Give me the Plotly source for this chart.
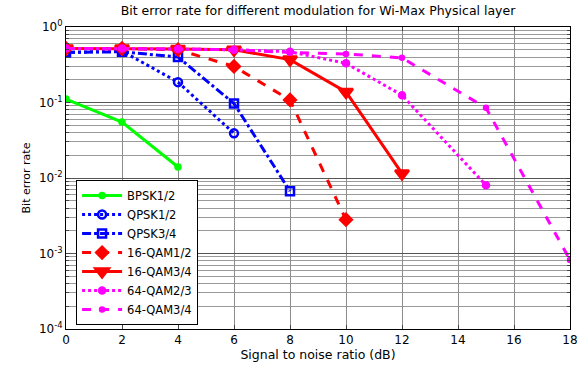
import plotly.graph_objects as go

snr_a = [0, 2, 4]
snr_b = [0, 2, 4, 6]
snr_c = [0, 2, 4, 6, 8]
snr_d = [0, 2, 4, 6, 8, 10]
snr_e = [0, 2, 4, 6, 8, 10, 12]
snr_f = [0, 2, 4, 6, 8, 10, 12, 15]
snr_g = [0, 2, 4, 6, 8, 10, 12, 15, 18]

bpsk12 = [0.111, 0.055, 0.014]
qpsk12 = [0.46, 0.48, 0.186, 0.039]
qpsk34 = [0.46, 0.47, 0.40, 0.097, 0.0067]
qam16_12 = [0.52, 0.52, 0.50, 0.30, 0.108, 0.0028]
qam16_34 = [0.52, 0.52, 0.51, 0.50, 0.37, 0.138, 0.0115]
qam64_23 = [0.52, 0.52, 0.51, 0.50, 0.47, 0.33, 0.125, 0.008]
qam64_34 = [0.52, 0.52, 0.51, 0.50, 0.46, 0.44, 0.39, 0.085, 0.00082]

names = ["BPSK1/2", "QPSK1/2", "QPSK3/4", "16-QAM1/2", "16-QAM3/4", "64-QAM2/3", "64-QAM3/4"]
xs = [snr_a, snr_b, snr_c, snr_d, snr_e, snr_f, snr_g]
ys = [bpsk12, qpsk12, qpsk34, qam16_12, qam16_34, qam64_23, qam64_34]

colors = ["#00ff00", "#0000ff", "#0000ff", "#ff0000", "#ff0000", "#ff00ff", "#ff00ff"]
dashes = ["solid", "dot", "dashdot", "dash", "solid", "dot", "dash"]
symbols = ["circle", "circle-open", "square-open", "diamond", "triangle-down", "circle", "circle"]
msizes = [5, 8, 8, 9, 12, 6, 4]

fig = go.Figure()
for n, x, y, c, d, s, m in zip(names, xs, ys, colors, dashes, symbols, msizes):
    fig.add_trace(go.Scatter(
        x=x, y=y, name=n, mode="lines+markers",
        line=dict(color=c, width=3, dash=d),
        marker=dict(symbol=s, size=m, color=c, line=dict(color=c, width=2.5)),
    ))

ytick_vals = [1e-4, 1e-3, 1e-2, 1e-1, 1]
ytick_text = ["10<sup>-4</sup>", "10<sup>-3</sup>", "10<sup>-2</sup>", "10<sup>-1</sup>", "10<sup>0</sup>"]

fig.update_layout(
    width=585, height=365,
    margin=dict(l=66, r=15, t=27, b=36),
    paper_bgcolor="white", plot_bgcolor="white",
    font=dict(family="DejaVu Sans, Arial, sans-serif", size=12, color="black"),
    title=dict(text="Bit error rate for different modulation for Wi-Max Physical layer",
               x=0.5, xref="paper", xanchor="center", y=0.984, yanchor="top",
               font=dict(size=12.5)),
    legend=dict(x=0.02, y=0.013, xanchor="left", yanchor="bottom",
                bgcolor="white", bordercolor="black", borderwidth=1,
                font=dict(size=11.5), tracegroupgap=0, itemwidth=40),
    xaxis=dict(range=[0, 18], dtick=2, showgrid=True, gridcolor="#8c8c8c", gridwidth=1,
               showline=True, linecolor="black", linewidth=1, mirror="ticks",
               ticks="inside", ticklen=4, zeroline=False, automargin=False,
               tickfont=dict(size=12),
               title=dict(text="Signal to noise ratio (dB)", standoff=2, font=dict(size=12.5))),
    yaxis=dict(type="log", range=[-4, 0], tickvals=ytick_vals, ticktext=ytick_text,
               showgrid=True, gridcolor="#555555", gridwidth=1,
               showline=True, linecolor="black", linewidth=1, mirror="allticks",
               ticks="inside", ticklen=4, zeroline=False, automargin=False,
               tickfont=dict(size=12),
               minor=dict(showgrid=True, gridcolor="#9a9a9a", ticks="inside", ticklen=3,
                          tickvals=[k * 10 ** e for e in range(-4, 0) for k in range(2, 10)]),
               title=dict(text="Bit error rate", standoff=6, font=dict(size=11))),
)

fig.write_html("out.html", config={"displayModeBar": False},
               post_script="document.body.style.margin='0';")
